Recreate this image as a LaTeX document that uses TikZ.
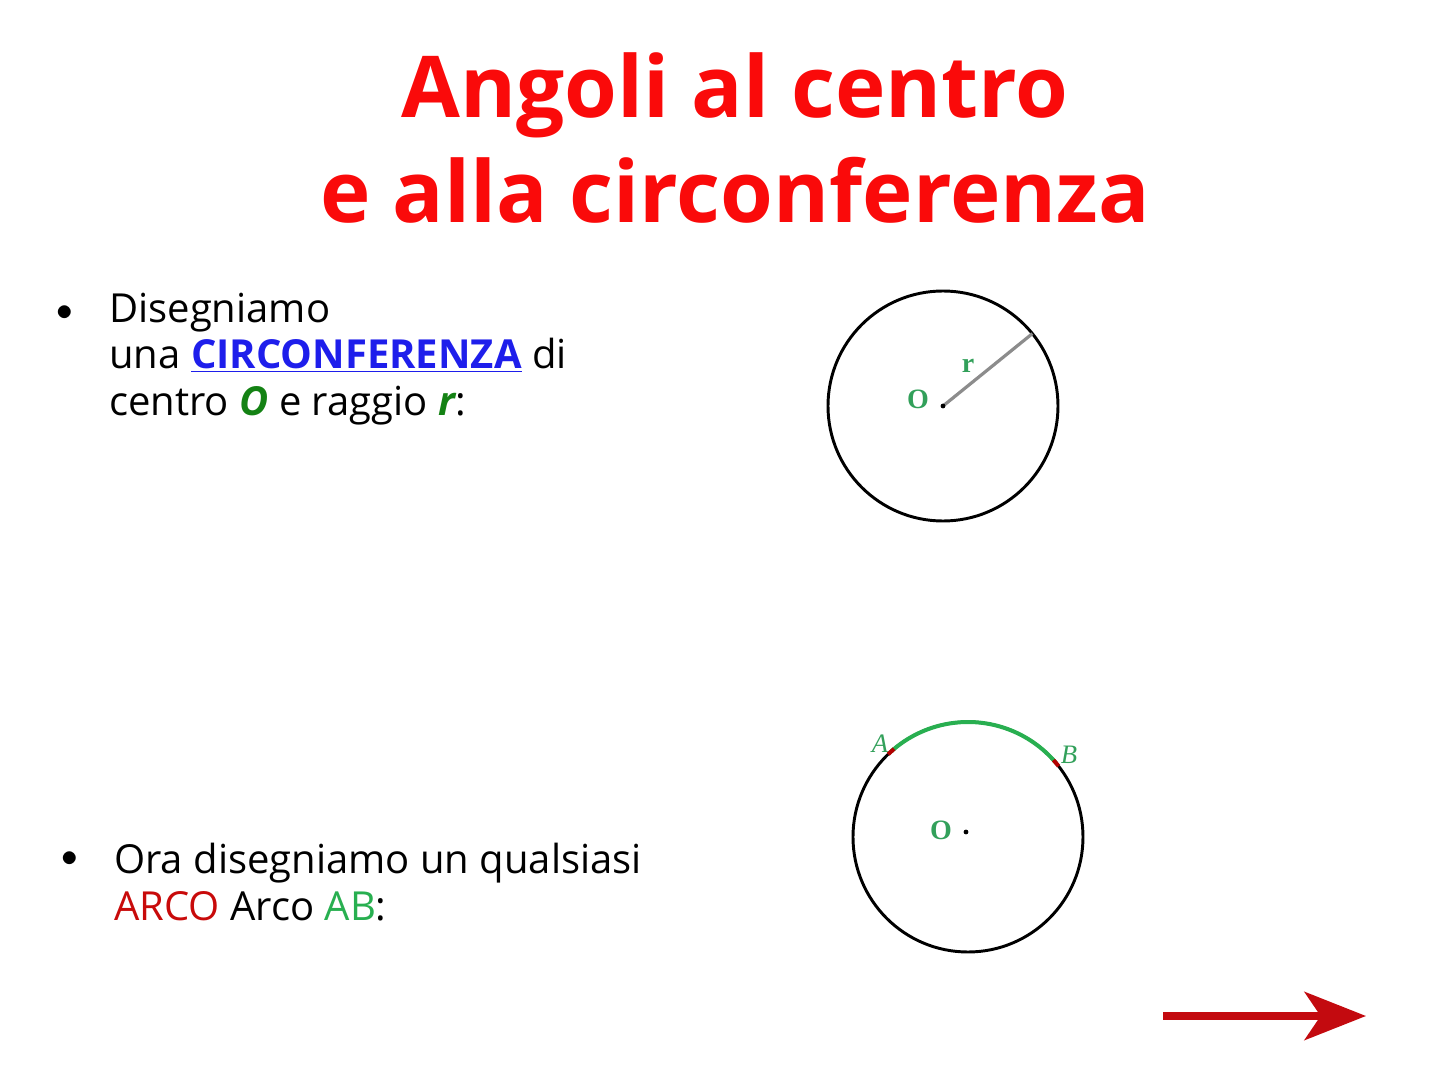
\documentclass[tikz,border=0pt]{standalone}
\usepackage{fontspec}
\setmainfont{Open Sans}
\newfontfamily\labelfont{Liberation Serif}
\usepackage{tikz}
\usetikzlibrary{arrows.meta}
\usetikzlibrary{calc}

\definecolor{titlered}{RGB}{250,10,10}
\definecolor{linkblue}{RGB}{30,30,235}
\definecolor{darkgreen}{RGB}{20,130,20}
\definecolor{arcgreen}{RGB}{40,175,80}
\definecolor{arcored}{RGB}{200,10,10}
\definecolor{labgreen}{RGB}{50,160,90}
\definecolor{arrowred}{RGB}{195,10,15}

\tikzset{
  bodytext/.style={anchor=west, inner sep=0.75pt, font=\fontsize{30}{35}\selectfont, align=left},
  ptlabel/.style={inner sep=0.75pt, text=labgreen, font=\fontsize{21}{22}\selectfont\labelfont\bfseries},
  arclabel/.style={inner sep=0.75pt, text=labgreen, font=\fontsize{20}{22}\selectfont\labelfont\itshape},
}

\begin{document}
\begin{tikzpicture}[x=0.75pt,y=0.75pt,yscale=-1,xscale=1]
\useasboundingbox (0,0) rectangle (1440,1080);

% Title
\draw (735,138) node [inner sep=0.75pt, align=center, text=titlered, font=\fontsize{64}{79}\selectfont\bfseries] (title) {Angoli al centro\\e alla circonferenza};

% Text Node
\draw (65,313) node [inner sep=0.75pt, font=\fontsize{24}{30}\selectfont] (bul1) {$\bullet$};
\draw (108,359) node [bodytext] (txt1) {Disegniamo\\una \textcolor{linkblue}{\bfseries\underline{CIRCONFERENZA}} di\\centro \textcolor{darkgreen}{\bfseries\itshape O} e raggio \textcolor{darkgreen}{\bfseries\itshape r}:};

% Text Node
\draw (70,859) node [inner sep=0.75pt, font=\fontsize{24}{30}\selectfont] (bul2) {$\bullet$};
\draw (113,882) node [bodytext] (txt2) {Ora disegniamo un qualsiasi\\\textcolor{arcored}{ARCO} Arco \textcolor{arcgreen}{AB}:};

%Shape: Circle [first]
\coordinate (O1) at (943,406);
\draw [line width=2.2] (O1) circle [radius=115];
\coordinate (R1) at ($(O1)+(-39:115)$);
\draw [color={rgb, 255:red, 140; green, 140; blue, 140}, line width=2.4] (O1) -- (R1);
\fill (O1) circle [radius=2.4];
\draw (918,399) node [ptlabel] (labO1) {O};
\draw (968,366) node [ptlabel] (labr) {r};

%Shape: Circle [second]
\coordinate (O2) at (968,837);
\draw [line width=2.2] (O2) circle [radius=115];
\coordinate (A) at ($(O2)+(-132:115)$);
\coordinate (B) at ($(O2)+(-40:115)$);
\draw [color=arcgreen, line width=3] (B) arc [start angle=-40, end angle=-132, radius=115];
\draw [color=red!70!black, line width=3] ($(O2)+(-130:115)$) arc [start angle=-130, end angle=-134, radius=115];
\draw [color=red!70!black, line width=3] ($(O2)+(-38:115)$) arc [start angle=-38, end angle=-42, radius=115];
\fill ($(O2)+(-2,-5)$) circle [radius=2.4];
\draw (941,830) node [ptlabel] (labO2) {O};
\draw (A) ++(-11,-8) node [arclabel] (labA) {A};
\draw (B) ++(13,-8) node [arclabel] (labB) {B};

%Straight Lines [next arrow]
\coordinate (arrS) at (1163,1016);
\coordinate (arrE) at (1366,1016);
\draw [color=arrowred, line width=6, -{Stealth[length=46, width=36, inset=12]}] (arrS) -- (arrE);

\end{tikzpicture}
\end{document}
